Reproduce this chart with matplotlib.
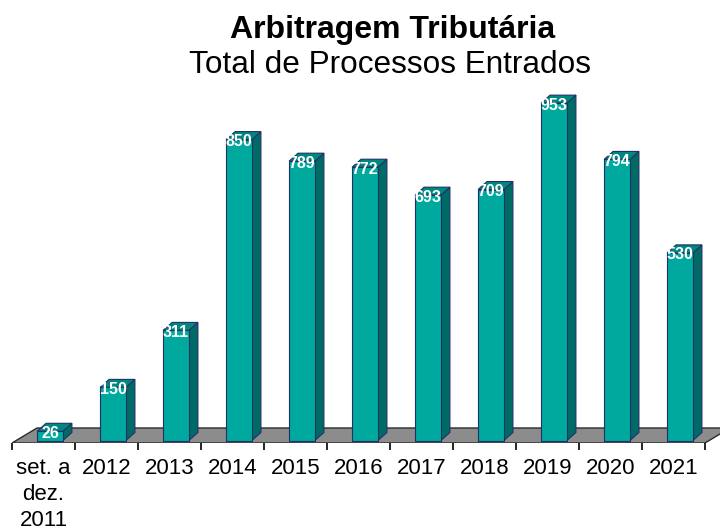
import matplotlib
matplotlib.use("Agg")
from matplotlib import pyplot as plt
from matplotlib.patches import Polygon

categories = ["set. a\ndez.\n2011", "2012", "2013", "2014", "2015", "2016",
              "2017", "2018", "2019", "2020", "2021"]
values = [26, 150, 311, 850, 789, 772, 693, 709, 953, 794, 530]

plt.rcParams['font.family'] = ['Liberation Sans', 'DejaVu Sans']

# pixel scale of the reference: 63 px per category, 0.354 px per process
PX_X = 63.0
PX_Y = 0.354

def ux(px):
  return px / PX_X

def uy(px):
  return px / PX_Y

fig = plt.figure(figsize=(7.2, 5.32), dpi=100)
ax = fig.add_axes([12 / 720, (532 - 443) / 532, 708 / 720, (443 - 80) / 532])
ax.set_xlim(-0.5, -0.5 + 708 / PX_X)
ax.set_ylim(0, uy(363))
for s in ax.spines.values():
  s.set_visible(False)

n = len(categories)

# floor
fdx, fdy = ux(25), uy(15)
floor = Polygon([(-0.5, 0), (n - 0.5, 0), (n - 0.5 + fdx, fdy), (-0.5 + fdx, fdy)],
                closed=True, facecolor='#8c8c8c', edgecolor='#2b2b2b', lw=1.0, zorder=1)
ax.add_patch(floor)

# bars
front = '#00a99d'
side = '#006b64'
top = '#00877e'
edge = '#22306a'
w = 0.41
offx, offy = ux(6.5), uy(2.5)
dx, dy = ux(9), uy(8)
for i, v in enumerate(values):
  x0 = i - w / 2 + offx
  x1 = x0 + w
  y0 = offy
  y1 = offy + v
  ax.add_patch(Polygon([(x1, y0), (x1 + dx, y0 + dy), (x1 + dx, y1 + dy), (x1, y1)],
                       facecolor=side, edgecolor=edge, lw=0.8, zorder=2 + i))
  ax.add_patch(Polygon([(x0, y1), (x1, y1), (x1 + dx, y1 + dy), (x0 + dx, y1 + dy)],
                       facecolor=top, edgecolor=edge, lw=0.8, zorder=2 + i))
  ax.add_patch(Polygon([(x0, y0), (x1, y0), (x1, y1), (x0, y1)],
                       facecolor=front, edgecolor=edge, lw=0.8, zorder=2 + i))
  ax.annotate(str(v), (i + offx, y1), xytext=(0, -1.5), textcoords='offset points',
              ha='center', va='center', color='white', fontsize=11.5,
              fontweight='bold', zorder=20)

# ticks and labels
ax.set_xticks([i - 0.5 for i in range(n + 1)], minor=True)
ax.set_xticks(range(n))
ax.set_xticklabels(categories, fontsize=16, linespacing=1.3)
ax.tick_params(axis='x', which='minor', length=5, width=1.2, color='black', direction='out')
ax.tick_params(axis='x', which='major', length=0, pad=11)
ax.set_yticks([])

fig.text(393 / 720, 1 - 38 / 532, "Arbitragem Tributária", ha='center', va='baseline',
         fontsize=23, fontweight='bold')
fig.text(390 / 720, 1 - 73 / 532, "Total de Processos Entrados", ha='center', va='baseline',
         fontsize=22.7)

fig.savefig("out.png", dpi=100)
